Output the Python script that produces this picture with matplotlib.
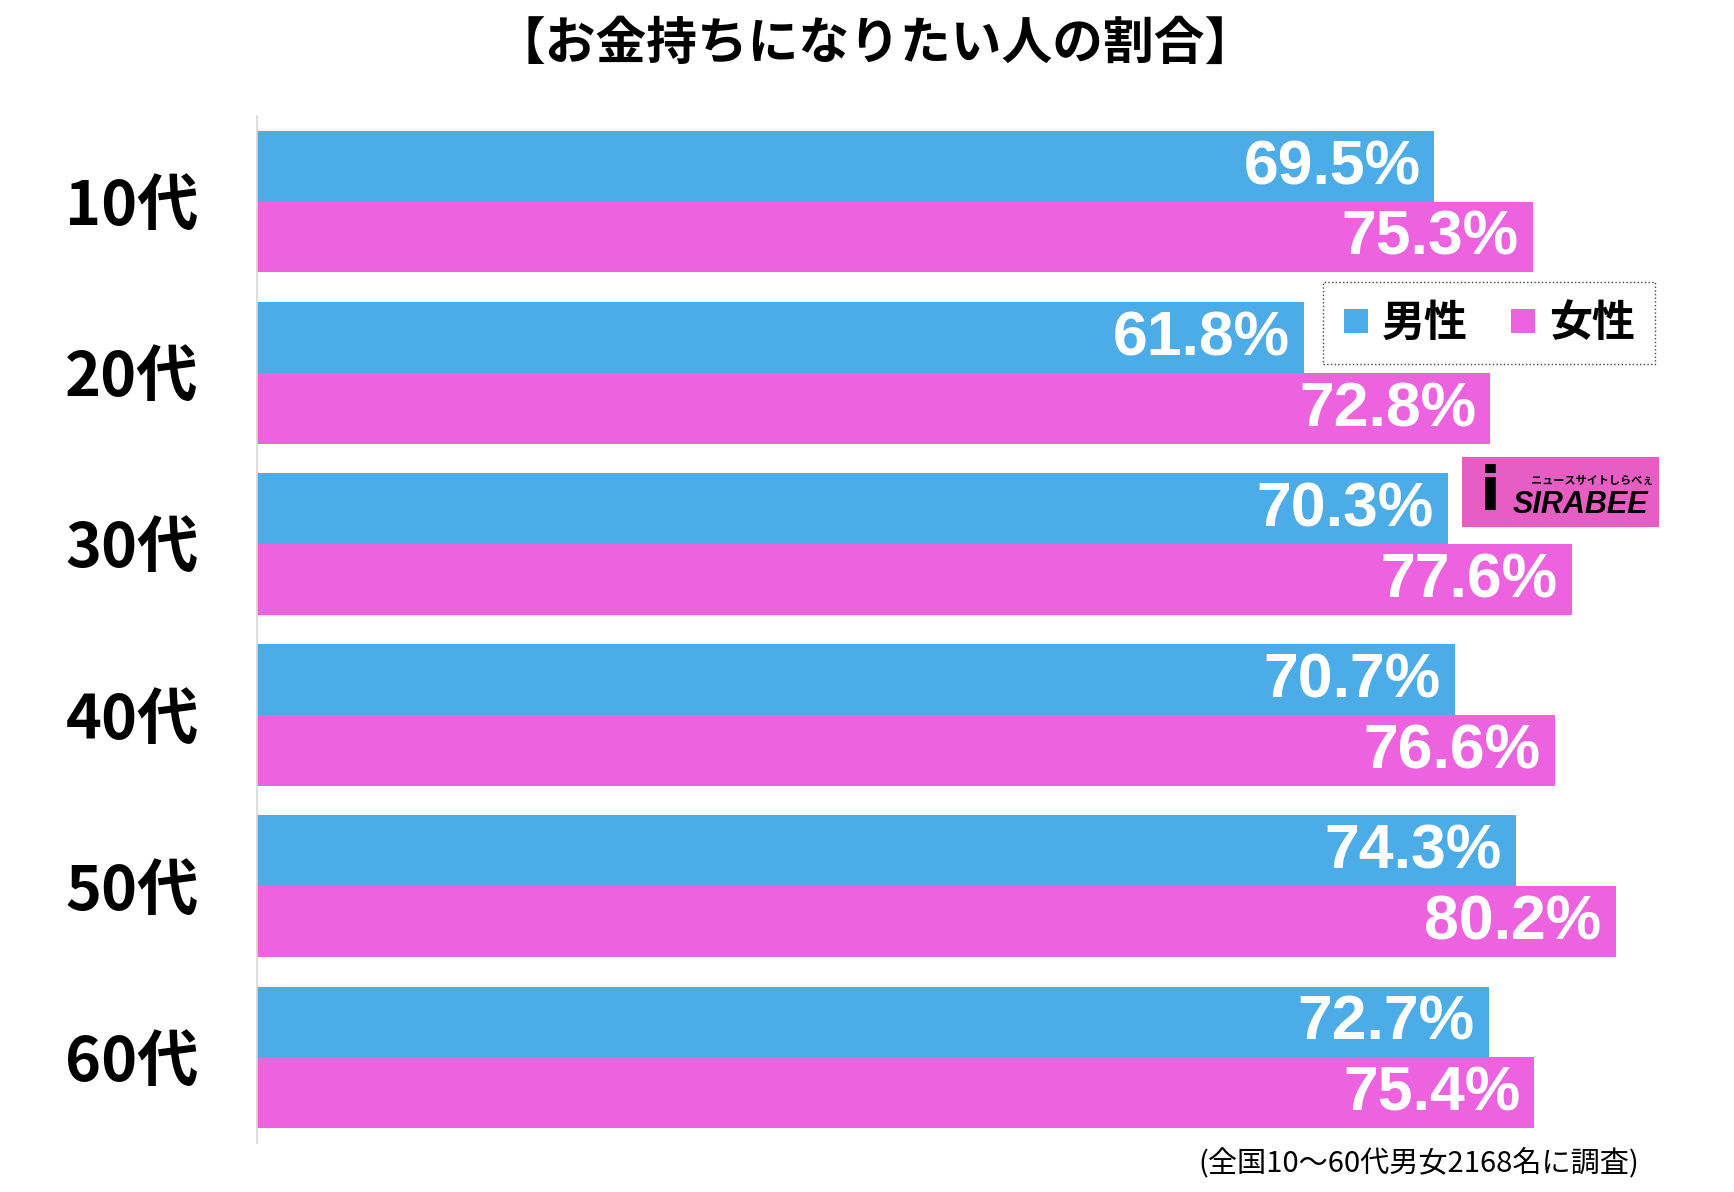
import matplotlib
matplotlib.use("Agg")
import matplotlib.pyplot as plt
from matplotlib.patches import Rectangle
from matplotlib.lines import Line2D
import numpy as np

plt.rcParams['font.family'] = ['Noto Sans CJK JP', 'DejaVu Sans']

categories = ['10代', '20代', '30代', '40代', '50代', '60代']
male = [69.5, 61.8, 70.3, 70.7, 74.3, 72.7]
female = [75.3, 72.8, 77.6, 76.6, 80.2, 75.4]
series_names = ['男性', '女性']
title = '【お金持ちになりたい人の割合】'
note = '(全国10〜60代男女2168名に調査)'

BLUE = '#4BACE8'
PINK = '#EC62DF'

W, H = 1734, 1192
fig = plt.figure(figsize=(W / 100, H / 100), dpi=100)
ax = fig.add_axes([257 / W, 1 - 1143 / H, 1 - 257 / W, (1143 - 116) / H])

y = np.arange(len(categories))
bh = 0.414
bm = ax.barh(y - bh / 2, male, height=bh, color=BLUE, linewidth=0)
bf = ax.barh(y + bh / 2, female, height=bh, color=PINK, linewidth=0)

ax.set_xlim(0, (W - 257) / 16.94)
ax.set_ylim(len(categories) - 0.5, -0.5)

for bars, vals in ((bm, male), (bf, female)):
    for b, v in zip(bars, vals):
        ax.annotate(f'{v:.1f}%', xy=(v, b.get_y() + b.get_height() / 2),
                    xytext=(-10, -1), textcoords='offset points',
                    ha='right', va='center', color='white',
                    fontsize=45, fontweight='bold', family=['Liberation Sans'])

ax.set_yticks(y)
ax.set_yticklabels(categories, fontsize=44, fontweight='bold')
ax.tick_params(axis='y', length=0, pad=42)
ax.set_xticks([])
for s in ('top', 'right', 'bottom'):
    ax.spines[s].set_visible(False)
ax.spines['left'].set_color('#d8d8d8')
ax.spines['left'].set_linewidth(1.2)

fig.text(875 / W, 1 - 44 / H, title, ha='center', va='center',
         fontsize=36.5, fontweight='bold')
fig.text(1639 / W, 1 - 1164 / H, note, ha='right', va='center', fontsize=21)

handles = [Line2D([], [], marker='s', linestyle='none', markersize=17,
                  markerfacecolor=c, markeredgewidth=0) for c in (BLUE, PINK)]
leg = ax.legend(handles, series_names, loc='center', ncol=2,
                bbox_to_anchor=(1489 / W, 1 - 323 / H),
                bbox_transform=fig.transFigure,
                prop={'size': 31, 'weight': 'bold', 'family': ['Noto Sans CJK JP']},
                handlelength=0.6, handletextpad=0.3, columnspacing=1.0,
                borderpad=0.45, borderaxespad=0, fancybox=False, framealpha=1)
fr = leg.get_frame()
fr.set_edgecolor('#444444')
fr.set_linestyle(':')
fr.set_linewidth(1.0)

# logo
fig.patches.append(Rectangle((1462 / W, 1 - 527 / H), 197 / W, 70 / H,
                             transform=fig.transFigure, facecolor='#E65DC3',
                             edgecolor='none', zorder=5))
fig.text(1490 / W, 1 - 494 / H, 'i', ha='center', va='center', fontsize=44,
         fontweight='bold', color='black', family=['DejaVu Sans'], zorder=6)
fig.text(1580 / W, 1 - 505 / H, 'SIRABEE', ha='center', va='center',
         fontsize=22, fontweight='bold', style='italic', color='black',
         family=['Liberation Sans'], zorder=6)
fig.text(1592 / W, 1 - 480 / H, 'ニュースサイトしらべぇ', ha='center',
         va='center', fontsize=8, fontweight='bold', color='black', zorder=6)

fig.savefig('out.png', dpi=100)
